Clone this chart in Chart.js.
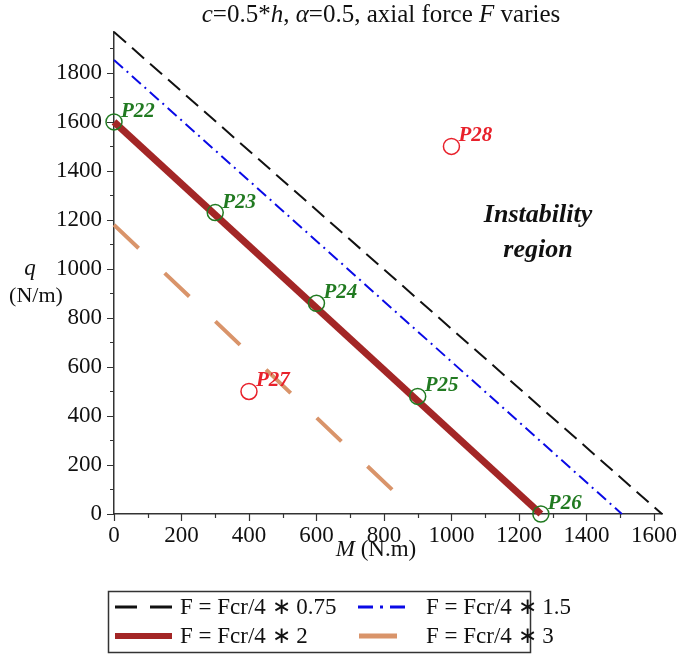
<!DOCTYPE html>
<html>
<head>
<meta charset="utf-8">
<script src="https://cdn.jsdelivr.net/npm/chart.js@4.4.1/dist/chart.umd.min.js"></script>
<style>
  html, body { margin: 0; padding: 0; background: #fff; }
  #wrap { width: 679px; height: 656px; }
</style>
</head>
<body>
<div id="wrap"><canvas id="chart" width="679" height="656"></canvas></div>
<script>
// boundary lines, F = Fcr/4 * k, each one goes from the q axis to the M axis
const seriesLabels = ["F = Fcr/4 \u2217 0.75", "F = Fcr/4 \u2217 1.5", "F = Fcr/4 \u2217 2", "F = Fcr/4 \u2217 3"];
const lineM = [[0, 1624], [0, 1505], [0, 1265], [0, 900]];
const lineQ = [[1967, 0], [1853, 0], [1600, 0], [1180, 0]];

// points on the F = Fcr/4*2 boundary
const boundaryNames = ["P22", "P23", "P24", "P25", "P26"];
const boundaryM = [0, 300, 600, 900, 1265];
const boundaryQ = [1600, 1230, 860, 480, 0];

// test points off the boundary
const testNames = ["P27", "P28"];
const testM = [400, 1000];
const testQ = [500, 1500];

// axis ranges and tick labels
const xMax = 1624;
const yMax = 1967;
const xTickLabels = [0, 200, 400, 600, 800, 1000, 1200, 1400, 1600];
const yTickLabels = [0, 200, 400, 600, 800, 1000, 1200, 1400, 1600, 1800];

const serif = "'Liberation Serif', 'Times New Roman', serif";

const lineStyles = [
  { color: "#111111", width: 2, dash: [16, 8] },
  { color: "#0a0ae6", width: 2, dash: [12, 5, 2, 5] },
  { color: "#a32626", width: 7, dash: [] },
  { color: "#d9946a", width: 4, dash: [34, 36] }
];

const green = "#217a21";
const red = "#e8212b";

const datasets = seriesLabels.map((name, i) => ({
  label: name,
  data: lineM[i].map((m, j) => ({ x: m, y: lineQ[i][j] })),
  showLine: true,
  borderColor: lineStyles[i].color,
  borderWidth: lineStyles[i].width,
  borderDash: lineStyles[i].dash,
  borderCapStyle: "butt",
  pointRadius: 0,
  fill: false,
  clip: false,
  order: 4 - i
}));

datasets.push({
  label: "boundary",
  data: boundaryM.map((m, j) => ({ x: m, y: boundaryQ[j] })),
  showLine: false,
  pointRadius: 8,
  pointBorderWidth: 1.5,
  pointBorderColor: green,
  pointBackgroundColor: "rgba(0,0,0,0)",
  clip: false,
  order: 0
});

datasets.push({
  label: "test",
  data: testM.map((m, j) => ({ x: m, y: testQ[j] })),
  showLine: false,
  pointRadius: 8,
  pointBorderWidth: 1.5,
  pointBorderColor: red,
  pointBackgroundColor: "rgba(0,0,0,0)",
  clip: false,
  order: 0
});

// minor / major tick marks, pointing out of the plot
const tickMarks = {
  id: "tickMarks",
  afterDraw(chart) {
    const ctx = chart.ctx;
    const xs = chart.scales.x, ys = chart.scales.y;
    const area = chart.chartArea;
    ctx.save();
    ctx.strokeStyle = "#333";
    ctx.lineWidth = 1.2;
    ctx.beginPath();
    for (let v = 0; v <= xMax; v += 100) {
      const px = Math.round(xs.getPixelForValue(v)) + 0.5;
      const len = xTickLabels.includes(v) ? 7 : 4;
      ctx.moveTo(px, area.bottom);
      ctx.lineTo(px, area.bottom + len);
    }
    for (let v = 0; v <= yMax; v += 100) {
      const py = Math.round(ys.getPixelForValue(v)) + 0.5;
      const len = yTickLabels.includes(v) ? 7 : 4;
      ctx.moveTo(area.left, py);
      ctx.lineTo(area.left - len, py);
    }
    ctx.stroke();
    ctx.restore();
  }
};

function drawRuns(ctx, runs, x, y, align) {
  let total = 0;
  runs.forEach(r => { ctx.font = r[1] + " " + r[2] + "px " + serif; total += ctx.measureText(r[0]).width; });
  let cx = align === "center" ? x - total / 2 : x;
  runs.forEach(r => {
    ctx.font = r[1] + " " + r[2] + "px " + serif;
    ctx.fillText(r[0], cx, y);
    cx += ctx.measureText(r[0]).width;
  });
}

const annotations = {
  id: "annotations",
  afterDraw(chart) {
    const ctx = chart.ctx;
    ctx.save();
    ctx.fillStyle = "#111";
    ctx.textBaseline = "alphabetic";
    ctx.textAlign = "left";

    // title
    drawRuns(ctx, [
      ["c", "italic", 25], ["=0.5*", "normal", 25], ["h", "italic", 25], [", ", "normal", 25],
      ["\u03b1", "italic", 25], ["=0.5, axial force ", "normal", 25], ["F", "italic", 25], [" varies", "normal", 25]
    ], 381, 22, "center");

    // axis titles
    drawRuns(ctx, [["M", "italic", 23], [" (N.m)", "normal", 23]], 376, 556, "center");
    drawRuns(ctx, [["q", "italic", 23]], 30, 275, "center");
    drawRuns(ctx, [["(N/m)", "normal", 22]], 36, 302, "center");

    // region text
    ctx.font = "italic bold 26px " + serif;
    ctx.textAlign = "center";
    ctx.fillText("Instability", 538, 222);
    ctx.fillText("region", 538, 257);

    // point labels
    ctx.textAlign = "left";
    ctx.font = "italic bold 21px " + serif;
    const groups = [[4, boundaryNames, green], [5, testNames, red]];
    groups.forEach(([idx, names, col]) => {
      const meta = chart.getDatasetMeta(idx);
      ctx.fillStyle = col;
      meta.data.forEach((pt, j) => {
        ctx.fillText(names[j], pt.x + 7, pt.y - 5);
      });
    });

    // legend
    const box = { x: 108, y: 591, w: 422, h: 61 };
    ctx.strokeStyle = "#333";
    ctx.lineWidth = 1.5;
    ctx.strokeRect(box.x + 0.5, box.y + 0.5, box.w, box.h);
    const cells = [
      { i: 0, x0: 115, x1: 172, tx: 180, y: 607, dash: [22, 13] },
      { i: 1, x0: 358, x1: 410, tx: 426, y: 607, dash: [15, 7, 3, 7] },
      { i: 2, x0: 115, x1: 172, tx: 180, y: 636, dash: [] },
      { i: 3, x0: 359, x1: 397, tx: 426, y: 636, dash: [] }
    ];
    ctx.font = "23px " + serif;
    ctx.textBaseline = "middle";
    cells.forEach(c => {
      const st = lineStyles[c.i];
      ctx.save();
      ctx.strokeStyle = st.color;
      ctx.lineWidth = c.i === 2 ? 6 : (c.i === 3 ? 5 : 3);
      ctx.setLineDash(c.dash);
      ctx.beginPath();
      ctx.moveTo(c.x0, c.y);
      ctx.lineTo(c.x1, c.y);
      ctx.stroke();
      ctx.restore();
      ctx.fillStyle = "#111";
      ctx.fillText(chart.data.datasets[c.i].label, c.tx, c.y + 1);
    });
    ctx.restore();
  }
};

new Chart(document.getElementById("chart"), {
  type: "scatter",
  data: { datasets: datasets },
  options: {
    responsive: false,
    animation: false,
    layout: { padding: { left: 14, right: 17, top: 32, bottom: 102 } },
    plugins: {
      legend: { display: false },
      title: { display: false },
      tooltip: { enabled: false }
    },
    scales: {
      x: {
        type: "linear",
        min: 0,
        max: xMax,
        grid: { display: false, drawTicks: false },
        border: { display: true, color: "#333", width: 1.5 },
        ticks: {
          stepSize: 100,
          autoSkip: false,
          includeBounds: false,
          maxRotation: 0,
          padding: 8,
          color: "#111",
          font: { family: serif, size: 23 },
          callback: v => (xTickLabels.includes(v) ? String(v) : "")
        },
        afterFit: s => { s.height = 40; s.paddingLeft = 0; s.paddingRight = 0; }
      },
      y: {
        type: "linear",
        min: 0,
        max: yMax,
        grid: { display: false, drawTicks: false },
        border: { display: true, color: "#333", width: 1.5 },
        ticks: {
          stepSize: 100,
          autoSkip: false,
          includeBounds: false,
          padding: 12,
          color: "#111",
          font: { family: serif, size: 23 },
          callback: v => (yTickLabels.includes(v) ? String(v) : "")
        },
        afterFit: s => { s.width = 100; s.paddingTop = 0; s.paddingBottom = 0; }
      }
    }
  },
  plugins: [tickMarks, annotations]
});
</script>
</body>
</html>
